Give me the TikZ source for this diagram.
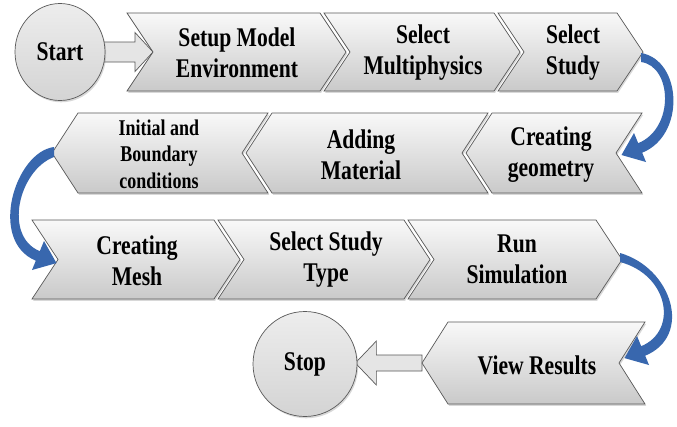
\documentclass[tikz,border=0pt]{standalone}
\usepackage{fontspec}
\setmainfont{Liberation Serif}[FakeStretch=0.8]
\usetikzlibrary{shadows,calc,shapes.geometric}
\pgfdeclarelayer{paper}
\pgfdeclarelayer{under}
\pgfsetlayers{paper,under,main}
\definecolor{edge}{HTML}{595959}
\definecolor{blu}{HTML}{3867AE}
\tikzset{
  chev/.style={draw=edge, line width=0.7pt, top color=gray!5, bottom color=gray!42,
    drop shadow={shadow xshift=1.2pt, shadow yshift=-1.8pt, opacity=0.3, fill=gray}},
  lbl/.style={font=\fontsize{27}{31}\selectfont\bfseries, align=center, inner sep=0pt},
  lblsmall/.style={font=\fontsize{22.5}{26.5}\selectfont\bfseries, align=center, inner sep=0pt},
  term/.style={ellipse, draw=edge, line width=0.7pt, top color=gray!14, bottom color=gray!34,
    inner sep=0pt, font=\fontsize{27}{31}\selectfont\bfseries,
    drop shadow={shadow xshift=1.2pt, shadow yshift=-1.8pt, opacity=0.3, fill=gray}},
  blockarr/.style={draw=edge, line width=0.7pt, fill=gray!20},
  bluearr/.style={fill=blu},
}
% right-pointing chevron: name, left x, tip x, top y, bottom y
\newcommand\rchev[5]{%
  \path[chev] (#2,#4) -- ({#3-26},#4) -- (#3,{(#4+#5)/2}) -- ({#3-26},#5) -- (#2,#5) -- ({#2+26},{(#4+#5)/2}) -- cycle;
  \coordinate (#1-tip) at (#3,{(#4+#5)/2});
  \coordinate (#1-notch) at ({#2+26},{(#4+#5)/2});}
% left-pointing chevron: name, tip x, right x, top y, bottom y
\newcommand\lchev[5]{%
  \path[chev] (#2,{(#4+#5)/2}) -- ({#2+26},#4) -- (#3,#4) -- ({#3-26},{(#4+#5)/2}) -- (#3,#5) -- ({#2+26},#5) -- cycle;
  \coordinate (#1-tip) at (#2,{(#4+#5)/2});
  \coordinate (#1-notch) at ({#3-26},{(#4+#5)/2});}
\begin{document}
\begin{tikzpicture}[x=1pt,y=-1pt]
\useasboundingbox (0,0) rectangle (677,426);
\begin{pgfonlayer}{paper}
\fill[white] (0,0) rectangle (677,426);
\end{pgfonlayer}

% row 1
\rchev{c1}{127}{346}{13}{91}
\rchev{c2}{324}{520}{13}{91}
\rchev{c3}{498}{643}{13}{91}
% row 2
\lchev{ib}{52}{268}{113}{193}
\lchev{am}{246}{488}{113}{193}
\lchev{cg}{466}{642}{113}{193}
% row 3
\rchev{cm}{32}{240}{220}{299}
\rchev{sst}{218}{430}{220}{299}
\rchev{rs}{408}{622}{220}{299}
% row 4
\lchev{vr}{422}{645}{322}{404}

% terminals
\node[term, minimum width=90pt, minimum height=97pt] (start) at (60,52) {Start};
\node[term, minimum width=104pt, minimum height=105pt] (stop) at (305,364) {Stop};

% block arrows
\begin{pgfonlayer}{under}
\draw[blockarr] let \p1=(start.east), \p2=(c1-notch) in
  ({\x1-4pt},{\y2+10pt}) -- ({\x2-18pt},{\y2+10pt}) -- ({\x2-18pt},{\y2+19.5pt}) -- (\p2)
  -- ({\x2-18pt},{\y2-19.5pt}) -- ({\x2-18pt},{\y2-10pt}) -- ({\x1-4pt},{\y2-10pt}) -- cycle;
\draw[blockarr] let \p1=(vr-tip), \p2=(stop.east) in
  (\x1,{\y1+8pt}) -- ({\x2+19pt},{\y1+8pt}) -- ({\x2+19pt},{\y1+22pt}) -- ({\x2-2pt},\y1)
  -- ({\x2+19pt},{\y1-22pt}) -- ({\x2+19pt},{\y1-8pt}) -- (\x1,{\y1-8pt}) -- cycle;
\end{pgfonlayer}

% curved blue arrows
\begin{scope}[shift={(c3-tip)}]
  \fill[bluearr] (-2,1) .. controls (39,8) and (43,83) .. (-0.8,100.7) -- (3,110) -- (-21.5,103)
    -- (-9,81) -- (-4.8,91.2) .. controls (32,76) and (29,14) .. (-2,10) -- cycle;
\end{scope}
\begin{scope}[shift={(ib-tip)}]
  \fill[bluearr] (2,-6) .. controls (-37,-1) and (-64.2,87.8) .. (-16.2,107.7) -- (-20,117) -- (4.5,110.1)
    -- (-8,88) -- (-12.2,98.2) .. controls (-49.2,82.9) and (-33,17) .. (2,4) -- cycle;
\end{scope}
\begin{scope}[shift={(rs-tip)}]
  \fill[bluearr] (-2,-6.5) .. controls (50,8.5) and (71.2,76.3) .. (23.2,96.2) -- (27,105.5) -- (2.5,98.6)
    -- (15,76.5) -- (19.2,86.7) .. controls (56.2,71.4) and (47,15.5) .. (-2,2.5) -- cycle;
\end{scope}

% labels
\node[lbl] (t-c1) at (237,53) {Setup Model\\Environment};
\node[lbl] (t-c2) at (423,53) {Select\\Multiphysics};
\node[lbl] (t-c3) at (573,53) {Select\\Study};
\node[lblsmall] (t-ib) at (159,154) {Initial and\\Boundary\\conditions};
\node[lbl] (t-am) at (361,155) {Adding\\Material};
\node[lbl] (t-cg) at (551,155) {Creating\\geometry};
\node[lbl] (t-cm) at (137,261) {Creating\\Mesh};
\node[lbl] (t-sst) at (326,260) {Select Study\\Type};
\node[lbl] (t-rs) at (517,259) {Run\\Simulation};
\node[lbl] (t-vr) at (537,365) {View Results};
\end{tikzpicture}
\end{document}
